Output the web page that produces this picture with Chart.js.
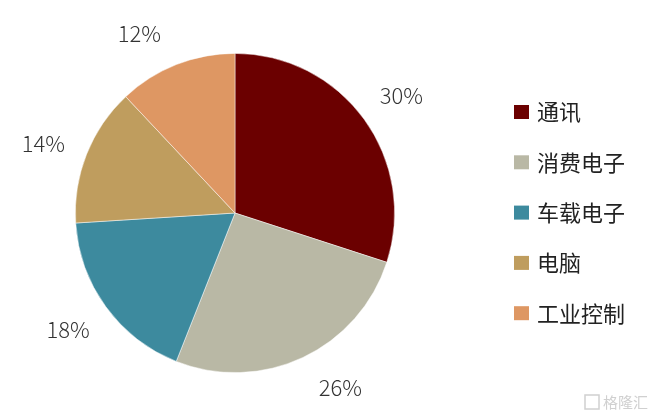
<!DOCTYPE html>
<html>
<head>
<meta charset="utf-8">
<script src="https://cdn.jsdelivr.net/npm/chart.js@4"></script>
<style>
  body { margin: 0; background: #fff; }
  #wrap { width: 661px; height: 418px; position: relative; }
</style>
</head>
<body>
<div id="wrap"><canvas id="myChart" width="661" height="418"></canvas></div>
<script>
var categorias = ['通讯', '消费电子', '车载电子', '电脑', '工业控制'];
var valores = [30, 26, 18, 14, 12];
var cores = ['#6B0000', '#B9B8A5', '#3D8A9E', '#BF9D5E', '#DE9763'];

var fonte = '"Noto Sans CJK SC", "Noto Sans", sans-serif';

// pequeno ajuste angular (graus) de cada rótulo, como no original
var ajusteRotulo = [0.8, -6, 1, -1.8, -6.4];

// rótulos de porcentagem fora das fatias
var rotulosPlugin = {
    id: 'rotulos',
    afterDatasetsDraw: function(chart) {
        var ctx = chart.ctx;
        var meta = chart.getDatasetMeta(0);
        ctx.save();
        ctx.fillStyle = '#333';
        ctx.font = '300 22px ' + fonte;
        ctx.textAlign = 'center';
        ctx.textBaseline = 'middle';
        meta.data.forEach(function(arc, i) {
            var meio = (arc.startAngle + arc.endAngle) / 2 + ajusteRotulo[i] * Math.PI / 180;
            var r = arc.outerRadius + 44;
            var x = arc.x + Math.cos(meio) * r;
            var y = arc.y + Math.sin(meio) * r;
            ctx.fillText(valores[i] + '%', x, y);
        });
        ctx.restore();
    }
};

// legenda desenhada à direita
var legendaPlugin = {
    id: 'legenda',
    afterDraw: function(chart) {
        var ctx = chart.ctx;
        ctx.save();
        ctx.font = '22px ' + fonte;
        ctx.textBaseline = 'middle';
        categorias.forEach(function(nome, i) {
            var y = 112 + i * 50.3;
            ctx.fillStyle = cores[i];
            ctx.fillRect(514, y - 7, 15, 14);
            ctx.fillStyle = '#222';
            ctx.fillText(nome, 537, y);
        });
        // marca d'água
        ctx.font = '15px ' + fonte;
        ctx.fillStyle = '#d0d0d0';
        ctx.strokeStyle = '#d0d0d0';
        ctx.lineWidth = 1.5;
        ctx.strokeRect(585, 395, 14, 14);
        ctx.fillText('格隆汇', 603, 402);
        ctx.restore();
    }
};

new Chart(document.getElementById('myChart'), {
    type: 'pie',
    data: {
        labels: categorias,
        datasets: [{
            data: valores,
            backgroundColor: cores,
            borderColor: 'rgba(255,255,255,0.6)',
            borderWidth: 0.8
        }]
    },
    options: {
        responsive: false,
        animation: false,
        layout: {
            padding: { left: 75, right: 266, top: 53, bottom: 45 }
        },
        plugins: {
            legend: { display: false },
            tooltip: { enabled: false }
        }
    },
    plugins: [rotulosPlugin, legendaPlugin]
});
</script>
</body>
</html>
